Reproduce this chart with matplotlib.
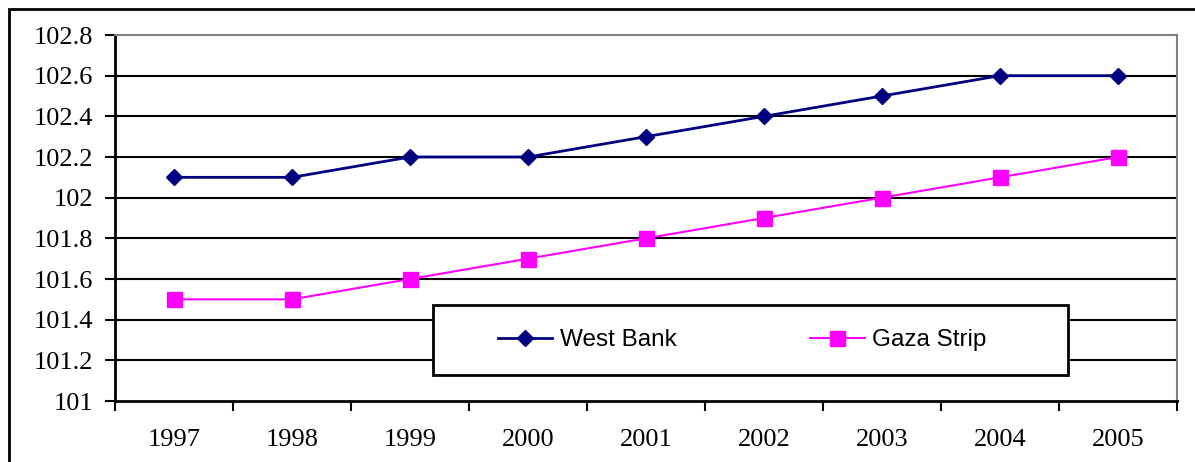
import matplotlib.pyplot as plt
from matplotlib.patches import Rectangle

plt.rcParams['font.family'] = ['Liberation Serif', 'DejaVu Serif']

years = ['1997', '1998', '1999', '2000', '2001', '2002', '2003', '2004', '2005']
west_bank = [102.1, 102.1, 102.2, 102.2, 102.3, 102.4, 102.5, 102.6, 102.6]
gaza_strip = [101.5, 101.5, 101.6, 101.7, 101.8, 101.9, 102.0, 102.1, 102.2]
y_ticks = [101, 101.2, 101.4, 101.6, 101.8, 102, 102.2, 102.4, 102.6, 102.8]
y_labels = ['101', '101.2', '101.4', '101.6', '101.8', '102', '102.2', '102.4', '102.6', '102.8']

W, H = 1195, 462
fig = plt.figure(figsize=(W / 100, H / 100), dpi=100)

# outer chart frame (runs off the right and bottom edges)
fig.patches.append(Rectangle((9 / W, -0.2), 1.2, (H - 9) / H + 0.2,
                             transform=fig.transFigure, fill=False,
                             edgecolor='black', linewidth=2))

ax = fig.add_axes([115 / W, (H - 401) / H, 1062 / W, 366 / H])
x = range(len(years))

for y in y_ticks[1:-1]:
    ax.axhline(y, color='black', linewidth=1.5, zorder=1)

ax.plot(x, west_bank, color='#000080', marker='D', markersize=7.8,
        linewidth=2, label='West Bank', zorder=3)
ax.plot(x, gaza_strip, color='#FF00FF', marker='s', markersize=10.8,
        linewidth=1.5, label='Gaza Strip', zorder=3)

ax.set_xlim(-0.5, len(years) - 0.5)
ax.set_ylim(101, 102.8)
ax.set_yticks(y_ticks)
ax.set_yticklabels(y_labels)
ax.set_xticks([i + 0.5 for i in range(-1, len(years))])
ax.set_xticklabels([])
ax.set_xticks(list(x), minor=True)
ax.set_xticklabels(years, minor=True)
ax.tick_params(axis='x', which='minor', length=0, pad=20, labelsize=19)
ax.tick_params(axis='x', which='major', length=7, width=1.5, direction='out')
ax.tick_params(axis='y', length=7, width=1.5, direction='out', pad=8.5,
               labelsize=19)

ax.spines['left'].set_linewidth(2)
ax.spines['bottom'].set_linewidth(2)
ax.spines['top'].set_color('#808080')
ax.spines['right'].set_color('#808080')
ax.spines['top'].set_linewidth(1.5)
ax.spines['right'].set_linewidth(1.5)

# legend box
box = Rectangle(((433 - 115) / 1062, 26 / 366), 635 / 1062, 70 / 366,
                transform=ax.transAxes, facecolor='white', edgecolor='black',
                linewidth=2, zorder=4)
ax.add_patch(box)
leg = ax.legend(loc='center', ncol=2, frameon=False,
                bbox_to_anchor=((742 - 115) / 1062, 61 / 366),
                handlelength=2.25, handletextpad=0.3, columnspacing=5.5,
                borderaxespad=0, borderpad=0,
                prop={'family': 'Liberation Sans', 'size': 17.5})
leg.set_zorder(5)

fig.savefig('out.png', dpi=100)
